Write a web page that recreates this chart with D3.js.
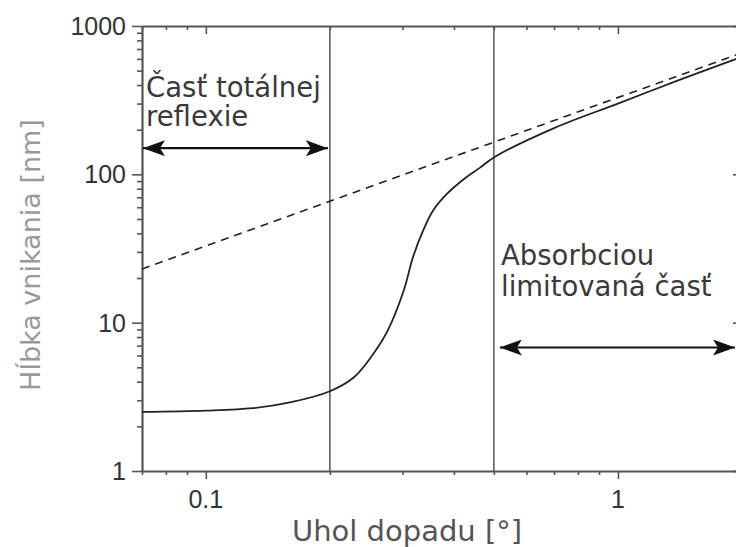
<!DOCTYPE html>
<html>
<head>
<meta charset="utf-8">
<script src="https://cdn.jsdelivr.net/npm/d3@7"></script>
<style>
  body { margin: 0; background: #fff; }
  svg { display: block; }
  .tick-label { font-family: "Liberation Sans", Arial, sans-serif; font-size: 25px; fill: #333; }
  .title { font-family: "DejaVu Sans", Verdana, sans-serif; }
  .note { font-family: "DejaVu Sans", Verdana, sans-serif; font-size: 27.5px; fill: #3a3a3a; }
</style>
</head>
<body>
<div id="chart"></div>
<script>
// values
var solidX = [0.07, 0.1, 0.13, 0.16, 0.2, 0.228, 0.251, 0.276, 0.302, 0.318, 0.337, 0.356, 0.385, 0.421, 0.463, 0.5, 0.7, 1.0, 1.4, 2.0];
var solidY = [2.5, 2.55, 2.65, 2.9, 3.45, 4.25, 5.8, 8.8, 16.4, 27.5, 42, 57, 74, 92, 111, 130, 205, 300, 430, 620];

var dashedX = [0.07, 2.0];
var dashedY = [23, 660];

var xLabelTicks = [0.1, 1];
var xLabelText = ["0.1", "1"];
var yLabelTicks = [1, 10, 100, 1000];
var yLabelText = ["1", "10", "100", "1000"];

var regionLines = [0.2, 0.5];

var leftNote = ["Časť totálnej", "reflexie"];
var rightNote = ["Absorbciou", "limitovaná časť"];

var width = 736, height = 547;
var plotLeft = 142, plotRight = 742, plotTop = 26, plotBottom = 471;

var svg = d3.select("#chart").append("svg")
  .attr("width", width)
  .attr("height", height);

var x = d3.scaleLog().domain([0.07, 2]).range([plotLeft, plotRight]);
var y = d3.scaleLog().domain([1, 1000]).range([plotBottom, plotTop]);

var axisColor = "#555";

// minor ticks, one per 1..9 x decade
function minorTicks(lo, hi) {
  var out = [];
  for (var e = -2; e <= 3; e++) {
    for (var m = 1; m <= 9; m++) {
      var v = m * Math.pow(10, e);
      if (v >= lo * 0.9999 && v <= hi * 1.0001) out.push(v);
    }
  }
  return out;
}
var xMinor = minorTicks(0.07, 2);
var yMinor = minorTicks(1, 1000);

function isMajor(v) {
  return Math.abs(Math.log10(v) - Math.round(Math.log10(v))) < 1e-6;
}

var xb = d3.axisBottom(x).tickValues(xMinor).tickFormat("").tickSize(4).tickSizeOuter(0);
var yl = d3.axisLeft(y).tickValues(yMinor).tickFormat("").tickSize(5).tickSizeOuter(0);
var xt = d3.axisTop(x).tickValues(xMinor).tickFormat("").tickSize(-4).tickSizeOuter(0);
var yr = d3.axisRight(y).tickValues(yMinor).tickFormat("").tickSize(-5).tickSizeOuter(0);

function styleAxis(g, majorLen, horizontal) {
  g.select(".domain").attr("stroke", axisColor).attr("stroke-width", 2.2);
  g.selectAll(".tick line")
    .attr("stroke", axisColor)
    .attr("stroke-width", 1.6)
    .each(function(d) {
      if (isMajor(d)) {
        if (horizontal) d3.select(this).attr("y2", majorLen);
        else d3.select(this).attr("x2", majorLen);
      }
    });
}

svg.append("g").attr("transform", "translate(0," + plotBottom + ")").call(xb)
  .call(function(g) { styleAxis(g, 8, true); });
svg.append("g").attr("transform", "translate(0," + plotTop + ")").call(xt)
  .call(function(g) { styleAxis(g, 8, true); });
svg.append("g").attr("transform", "translate(" + plotLeft + ",0)").call(yl)
  .call(function(g) { styleAxis(g, -10, false); });
svg.append("g").attr("transform", "translate(" + plotRight + ",0)").call(yr)
  .call(function(g) { styleAxis(g, -9, false); });

// tick labels
svg.selectAll("text.xlab").data(xLabelTicks).enter().append("text")
  .attr("class", "tick-label xlab")
  .attr("x", function(d) { return x(d); })
  .attr("y", 508)
  .attr("text-anchor", "middle")
  .text(function(d, i) { return xLabelText[i]; });

svg.selectAll("text.ylab").data(yLabelTicks).enter().append("text")
  .attr("class", "tick-label ylab")
  .attr("x", 126)
  .attr("y", function(d) { return y(d); })
  .attr("dy", "0.36em")
  .attr("text-anchor", "end")
  .text(function(d, i) { return yLabelText[i]; });

// axis titles
svg.append("text")
  .attr("class", "title")
  .attr("x", 407)
  .attr("y", 541)
  .attr("text-anchor", "middle")
  .attr("font-size", 29)
  .attr("fill", "#555")
  .text("Uhol dopadu [°]");

svg.append("text")
  .attr("class", "title")
  .attr("transform", "translate(40,255) rotate(-90)")
  .attr("text-anchor", "middle")
  .attr("font-size", 27)
  .attr("fill", "#999")
  .text("Hĺbka vnikania [nm]");

// region boundaries
svg.selectAll("line.region").data(regionLines).enter().append("line")
  .attr("class", "region")
  .attr("x1", function(d) { return x(d); })
  .attr("x2", function(d) { return x(d); })
  .attr("y1", plotTop)
  .attr("y2", plotBottom)
  .attr("stroke", axisColor)
  .attr("stroke-width", 1.5);

// curves
svg.append("clipPath").attr("id", "plot")
  .append("rect").attr("x", plotLeft).attr("y", plotTop)
  .attr("width", plotRight - plotLeft).attr("height", plotBottom - plotTop);

var line = d3.line()
  .x(function(d) { return x(d[0]); })
  .y(function(d) { return y(d[1]); })
  .curve(d3.curveCatmullRom.alpha(0.5));

svg.append("path")
  .datum(d3.zip(dashedX, dashedY))
  .attr("clip-path", "url(#plot)")
  .attr("d", line)
  .attr("fill", "none")
  .attr("stroke", "#222")
  .attr("stroke-width", 1.6)
  .attr("stroke-dasharray", "8,6");

svg.append("path")
  .datum(d3.zip(solidX, solidY))
  .attr("clip-path", "url(#plot)")
  .attr("d", line)
  .attr("fill", "none")
  .attr("stroke", "#222")
  .attr("stroke-width", 1.8);

// double-headed arrows
svg.append("defs").append("marker")
  .attr("id", "head")
  .attr("markerUnits", "userSpaceOnUse")
  .attr("markerWidth", 24)
  .attr("markerHeight", 16)
  .attr("refX", 22)
  .attr("refY", 8)
  .attr("orient", "auto-start-reverse")
  .append("path")
  .attr("d", "M0,0 L22,8 L0,16 L5,8 Z")
  .attr("fill", "#111");

function arrow(x1, x2, yy) {
  svg.append("line")
    .attr("x1", x1).attr("x2", x2)
    .attr("y1", yy).attr("y2", yy)
    .attr("stroke", "#111")
    .attr("stroke-width", 2.2)
    .attr("marker-start", "url(#head)")
    .attr("marker-end", "url(#head)");
}
arrow(x(0.07) + 1, x(0.2) - 2, y(150));
arrow(x(0.5) + 6, 735, y(6.8));

// notes
svg.selectAll("text.lnote").data(leftNote).enter().append("text")
  .attr("class", "note lnote")
  .attr("x", 146)
  .attr("y", function(d, i) { return 97 + i * 28.5; })
  .text(function(d) { return d; });

svg.selectAll("text.rnote").data(rightNote).enter().append("text")
  .attr("class", "note rnote")
  .attr("x", 501)
  .attr("y", function(d, i) { return 265 + i * 31; })
  .attr("fill", function(d, i) { return i ? "#666" : "#3a3a3a"; })
  .text(function(d) { return d; });
</script>
</body>
</html>
